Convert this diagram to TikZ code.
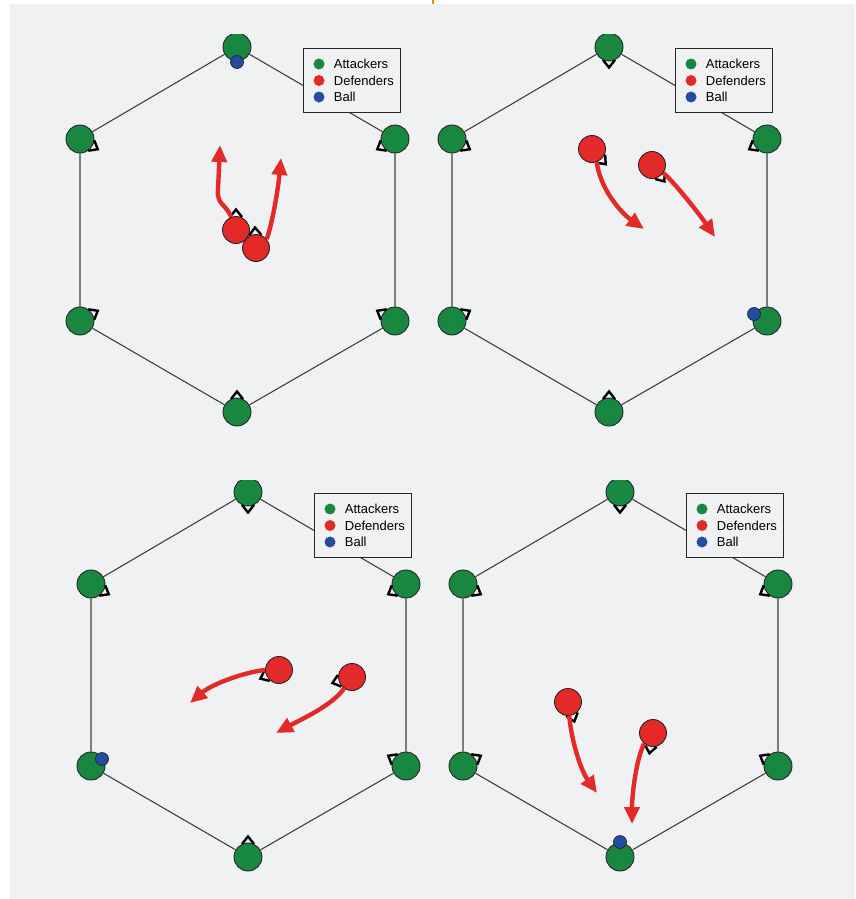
\documentclass[tikz,border=0pt]{standalone}
\usepackage{fontspec}
\setmainfont{Liberation Sans}
\usepackage{xcolor}
\usetikzlibrary{arrows.meta, positioning}

\definecolor{courtbg}{RGB}{240,241,243}
\definecolor{attgreen}{RGB}{24,136,64}
\definecolor{defred}{RGB}{228,42,40}
\definecolor{ballblue}{RGB}{36,76,160}

\begin{document}
\begin{tikzpicture}[
    x=1pt, y=-1pt,
    court/.style={draw=black!75, line width=1.1pt},
    attacker/.style={circle, draw=black!85, line width=0.9pt, fill=attgreen, minimum size=28pt, inner sep=0pt},
    defender/.style={circle, draw=black!85, line width=0.9pt, fill=defred, minimum size=27pt, inner sep=0pt},
    ball/.style={circle, draw=black!85, line width=0.7pt, fill=ballblue, minimum size=13pt, inner sep=0pt},
    keybox/.style={draw=black!85, line width=0.9pt, fill=courtbg, minimum width=97pt, minimum height=64pt},
    keydot/.style={circle, fill=#1, minimum size=11pt, inner sep=0pt},
    keytext/.style={inner sep=0pt, font=\fontsize{13}{15}\selectfont},
    run/.style={draw=defred, line width=4.4pt, -{Triangle[length=17pt,width=15pt]}},
    facing/.pic={\draw[line width=2.4pt, line join=miter] (13pt,-6pt) -- (20.5pt,0pt) -- (13pt,6pt);}
]
\useasboundingbox (0,0) rectangle (855,899);
\fill[courtbg] (10,4) rectangle (855,899);
\draw[orange, line width=1.5pt] (433,0) -- (433,4);

% the four courts: hexagon of attackers and the key
\foreach \p/\dx/\dy in {1/0/0, 2/372/0, 3/11/445, 4/383/445} {
  \begin{scope}[shift={(\dx,\dy)}]
    \clip (20,35) rectangle (430,426);
    \node[attacker] (p\p-top) at (237,47) {};
    \node[attacker] (p\p-ul) at (80,139) {};
    \node[attacker] (p\p-ur) at (395,139) {};
    \node[attacker] (p\p-ll) at (80,321) {};
    \node[attacker] (p\p-lr) at (395,321) {};
    \node[attacker] (p\p-bot) at (237,412) {};
    \draw[court] (p\p-top) -- (p\p-ur)  (p\p-ur) -- (p\p-lr)  (p\p-lr) -- (p\p-bot)
                 (p\p-bot) -- (p\p-ll)  (p\p-ll) -- (p\p-ul)  (p\p-ul) -- (p\p-top);
    \node[keybox] (p\p-key) at (351.5,80) {};
    \node[keydot=attgreen] (p\p-ka) at (319,64) {};
    \node[keydot=defred] (p\p-kd) at (319,80.5) {};
    \node[keydot=ballblue] (p\p-kb) at (319,97) {};
    \node[keytext, right=9pt of p\p-ka] (p\p-kat) {Attackers};
    \node[keytext, right=9pt of p\p-kd] (p\p-kdt) {Defenders};
    \node[keytext, right=9pt of p\p-kb] (p\p-kbt) {Ball};
  \end{scope}
}

% court 1
\foreach \n/\a in {ul/-30, ur/210, ll/30, lr/150, bot/90} \pic[rotate=\a] at (p1-\n) {facing};
\node[ball] (p1-ball) at (237,62) {};
\node[defender] (p1-d1) at (236,230) {};
\pic[rotate=90] at (p1-d1) {facing};
\node[defender] (p1-d2) at (256,248) {};
\pic[rotate=93] at (p1-d2) {facing};
\coordinate (p1-e1) at (220,145);
\coordinate (p1-e2) at (281,158);
\draw[run] (p1-d1.110) .. controls (225,203) and (217,205) .. (218,190) -- (p1-e1);
\draw[run] (p1-d2.40) .. controls (272,225) and (278,190) .. (p1-e2);

% court 2
\foreach \n/\a in {top/-90, ul/-30, ur/210, ll/30, bot/90} \pic[rotate=\a] at (p2-\n) {facing};
\node[ball] (p2-ball) at (754,314) {};
\node[defender] (p2-d1) at (592,149) {};
\pic[rotate=-48] at (p2-d1) {facing};
\node[defender] (p2-d2) at (652,165) {};
\pic[rotate=-53] at (p2-d2) {facing};
\coordinate (p2-e1) at (644,229);
\coordinate (p2-e2) at (715,237);
\draw[run] (p2-d1.-70) .. controls (600,188) and (620,212) .. (p2-e1);
\draw[run] (p2-d2.-35) .. controls (675,183) and (700,215) .. (p2-e2);

% court 3
\foreach \n/\a in {top/-90, ul/-30, ur/210, lr/150, bot/90} \pic[rotate=\a] at (p3-\n) {facing};
\node[ball] (p3-ball) at (102,759) {};
\node[defender] (p3-d1) at (279,670) {};
\pic[rotate=205] at (p3-d1) {facing};
\node[defender] (p3-d2) at (352,677) {};
\pic[rotate=197] at (p3-d2) {facing};
\coordinate (p3-e1) at (190,703);
\coordinate (p3-e2) at (276,733);
\draw[run] (p3-d1.180) .. controls (245,672) and (212,684) .. (p3-e1);
\draw[run] (p3-d2.235) .. controls (333,705) and (300,720) .. (p3-e2);

% court 4
\foreach \n/\a in {top/-90, ul/-30, ur/210, ll/30, lr/150} \pic[rotate=\a] at (p4-\n) {facing};
\node[ball] (p4-ball) at (620,842) {};
\node[defender] (p4-d1) at (568,702) {};
\pic[rotate=-72] at (p4-d1) {facing};
\node[defender] (p4-d2) at (653,733) {};
\pic[rotate=-100] at (p4-d2) {facing};
\coordinate (p4-e1) at (597,793);
\coordinate (p4-e2) at (632,824);
\draw[run] (p4-d1.-85) .. controls (572,745) and (582,772) .. (p4-e1);
\draw[run] (p4-d2.-130) .. controls (636,760) and (632,795) .. (p4-e2);
\end{tikzpicture}
\end{document}
